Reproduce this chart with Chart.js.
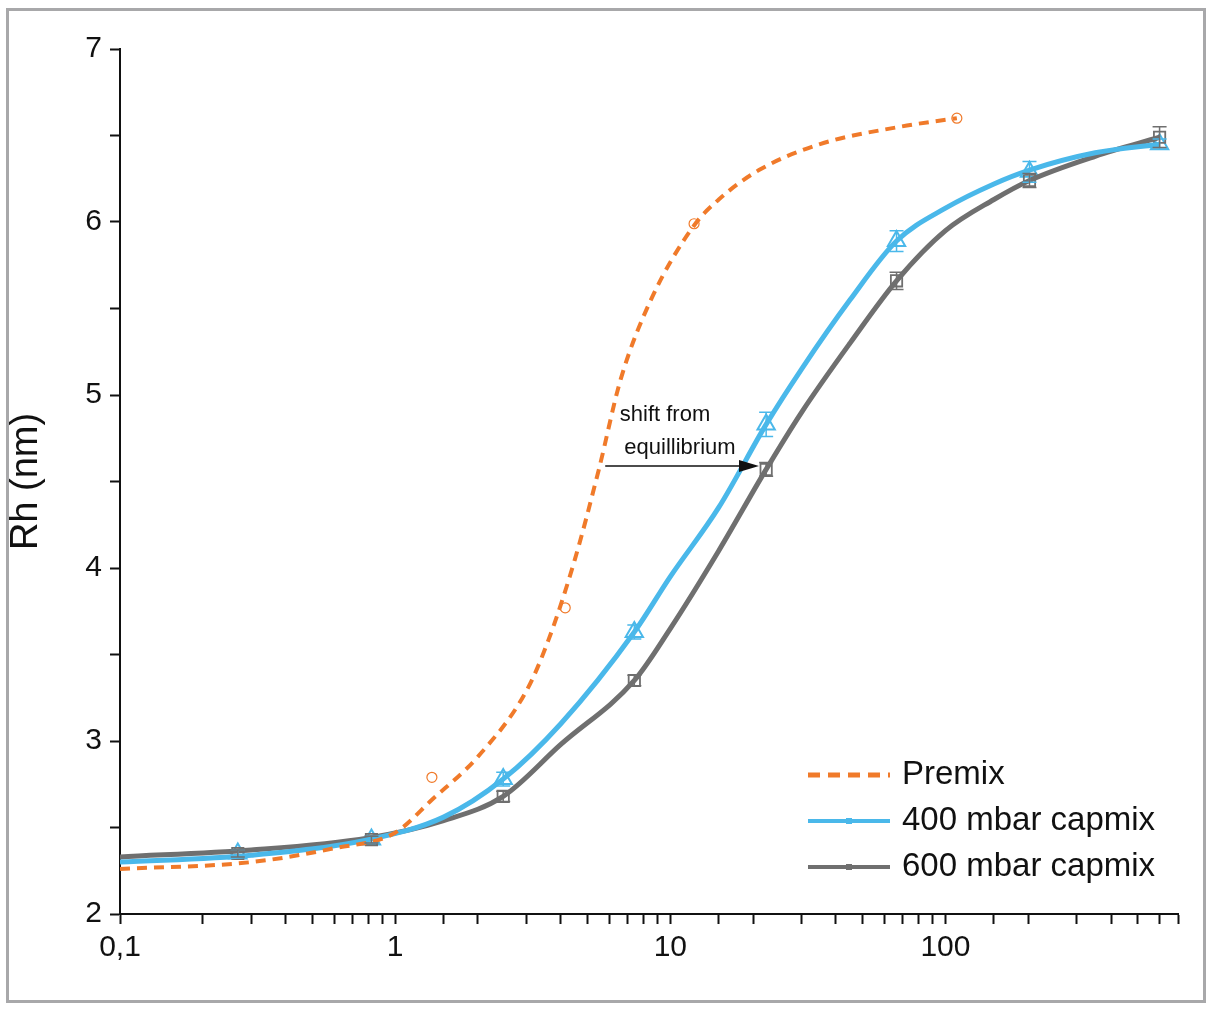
<!DOCTYPE html>
<html><head><meta charset="utf-8">
<script src="https://cdn.jsdelivr.net/npm/chart.js@4"></script>
<style>
body{margin:0;background:#fff}
#wrap{position:absolute;left:0;top:0;width:1216px;height:1014px}
#frame{position:absolute;left:6px;top:8px;width:1200px;height:995px;border:3px solid #a8a8aa;box-sizing:border-box;pointer-events:none}
</style></head>
<body>
<div id="wrap"><canvas id="c" width="1216" height="1014"></canvas></div>
<div id="frame"></div>
<script>
// measured points
const premixX = [1.36, 4.15, 12.2, 110];
const premixY = [2.79, 3.77, 5.99, 6.6];
const concX = [0.268, 0.82, 2.47, 7.4, 22.3, 66.4, 202, 600];
const cap400Y = [2.35, 2.43, 2.78, 3.63, 4.83, 5.89, 6.29, 6.45];
const cap600Y = [2.35, 2.43, 2.68, 3.35, 4.57, 5.66, 6.24, 6.49];
const err400 = [0.02, 0.02, 0.04, 0.04, 0.07, 0.06, 0.06, 0.03];
const err600 = [0.02, 0.02, 0.03, 0.03, 0.04, 0.05, 0.04, 0.06];

// fitted curves
const premixFitX = [0.1, 0.3, 0.6, 1, 1.36, 2, 3, 3.6, 4.5, 5.5, 6.6, 8.5, 12.2, 15, 21, 35, 68, 110];
const premixFitY = [2.26, 2.3, 2.38, 2.47, 2.66, 2.91, 3.29, 3.58, 4.05, 4.57, 5.09, 5.55, 5.98, 6.13, 6.3, 6.45, 6.55, 6.6];
const fitX = [0.1, 0.3, 0.8, 1.5, 2.47, 4, 7.4, 10, 15, 22.3, 30, 45, 66.4, 100, 150, 202, 350, 600];
const fit400Y = [2.3, 2.34, 2.43, 2.56, 2.78, 3.1, 3.63, 3.95, 4.35, 4.83, 5.15, 5.55, 5.89, 6.08, 6.22, 6.3, 6.4, 6.45];
const fit600Y = [2.33, 2.37, 2.44, 2.54, 2.68, 2.98, 3.35, 3.65, 4.1, 4.57, 4.9, 5.3, 5.66, 5.95, 6.13, 6.24, 6.38, 6.49];

const xTicks = [0.1, 1, 10, 100];

const orange = '#f07a2a', blue = '#4ab8ea', gray = '#6f6f6f';
const pts = (xs, ys) => xs.map((x, i) => ({x, y: ys[i]}));

const overlay = {
  id: 'overlay',
  afterDatasetsDraw(chart) {
    const {ctx, scales: {x, y}} = chart;
    ctx.save();
    // error bars
    [[cap400Y, err400, blue], [cap600Y, err600, gray]].forEach(([ys, es, col]) => {
      ctx.strokeStyle = col; ctx.lineWidth = 1.5;
      concX.forEach((cx, i) => {
        const px = x.getPixelForValue(cx);
        const t = y.getPixelForValue(ys[i] + es[i]), b = y.getPixelForValue(ys[i] - es[i]);
        ctx.beginPath();
        ctx.moveTo(px, t); ctx.lineTo(px, b);
        ctx.moveTo(px - 7, t); ctx.lineTo(px + 7, t);
        ctx.moveTo(px - 7, b); ctx.lineTo(px + 7, b);
        ctx.stroke();
      });
    });
    // arrow
    const ay = y.getPixelForValue(4.59);
    const ax0 = x.getPixelForValue(5.8), ax1 = x.getPixelForValue(21);
    ctx.strokeStyle = '#111'; ctx.fillStyle = '#111'; ctx.lineWidth = 1.5;
    ctx.beginPath(); ctx.moveTo(ax0, ay); ctx.lineTo(ax1 - 18, ay); ctx.stroke();
    ctx.beginPath(); ctx.moveTo(ax1, ay); ctx.lineTo(ax1 - 20, ay - 6); ctx.lineTo(ax1 - 20, ay + 6); ctx.closePath(); ctx.fill();
    ctx.font = '22px "Liberation Sans", Arial, sans-serif';
    ctx.textAlign = 'center';
    ctx.fillText('shift from', 665, 421);
    ctx.fillText('equillibrium', 680, 454);
    // legend
    const items = [['Premix', orange, true], ['400 mbar capmix', blue, false], ['600 mbar capmix', gray, false]];
    ctx.font = '33px "Liberation Sans", Arial, sans-serif';
    ctx.textAlign = 'left'; ctx.textBaseline = 'middle';
    items.forEach(([lab, col, dash], i) => {
      const ly = 775 + i * 46;
      ctx.strokeStyle = col; ctx.lineWidth = dash ? 5 : 4;
      ctx.setLineDash(dash ? [12, 8] : []);
      ctx.beginPath(); ctx.moveTo(808, ly); ctx.lineTo(890, ly); ctx.stroke();
      ctx.setLineDash([]);
      if (!dash) { ctx.fillStyle = col; ctx.fillRect(846, ly - 3, 6, 6); }
      ctx.fillStyle = '#111'; ctx.fillText(lab, 902, ly);
    });
    ctx.restore();
  }
};

new Chart(document.getElementById('c'), {
  type: 'scatter',
  data: {
    datasets: [
      {data: pts(premixFitX, premixFitY), showLine: true, borderColor: orange, borderWidth: 4, borderDash: [10, 7], pointRadius: 0, cubicInterpolationMode: 'monotone'},
      {data: pts(fitX, fit400Y), showLine: true, borderColor: blue, borderWidth: 5, pointRadius: 0, cubicInterpolationMode: 'monotone'},
      {data: pts(fitX, fit600Y), showLine: true, borderColor: gray, borderWidth: 5, pointRadius: 0, cubicInterpolationMode: 'monotone'},
      {data: pts(premixX, premixY), pointStyle: 'circle', pointRadius: 5, borderColor: orange, backgroundColor: 'rgba(0,0,0,0)', borderWidth: 1.2},
      {data: pts(concX, cap600Y), pointStyle: 'rect', pointRadius: 8, borderColor: gray, backgroundColor: 'rgba(0,0,0,0)', borderWidth: 1.8},
      {data: pts(concX, cap400Y), pointStyle: 'triangle', pointRadius: 10, borderColor: blue, backgroundColor: 'rgba(0,0,0,0)', borderWidth: 2}
    ]
  },
  options: {
    responsive: false, animation: false,
    layout: {padding: {top: 49, right: 38, left: 0, bottom: 0}},
    plugins: {legend: {display: false}, tooltip: {enabled: false}},
    scales: {
      x: {
        type: 'logarithmic', min: 0.1, max: 700,
        afterFit: s => { s.height = 100; },
        afterBuildTicks: s => { s.ticks = s.ticks.filter(t => t.value >= 0.1); },
        grid: {drawOnChartArea: false, color: '#111', tickLength: 10, tickWidth: 2},
        border: {color: '#111', width: 2},
        ticks: {
          color: '#111', font: {size: 30, family: '"Liberation Sans", Arial'}, padding: 6,
          autoSkip: false, maxRotation: 0,
          callback: v => xTicks.some(t => Math.abs(t - v) < 1e-9) ? String(v).replace('.', ',') : ''
        }
      },
      y: {
        min: 2, max: 7,
        afterFit: s => { s.width = 120; },
        grid: {drawOnChartArea: false, color: '#111', tickLength: 10, tickWidth: 2},
        border: {color: '#111', width: 2},
        ticks: {
          stepSize: 0.5, color: '#111', font: {size: 30, family: '"Liberation Sans", Arial'}, padding: 8,
          callback: v => Number.isInteger(v) ? v : ''
        },
        title: {display: true, text: 'Rh (nm)', color: '#111', font: {size: 38, family: '"Liberation Sans", Arial'}, padding: {bottom: 6}}
      }
    }
  },
  plugins: [overlay]
});
</script>
</body></html>
